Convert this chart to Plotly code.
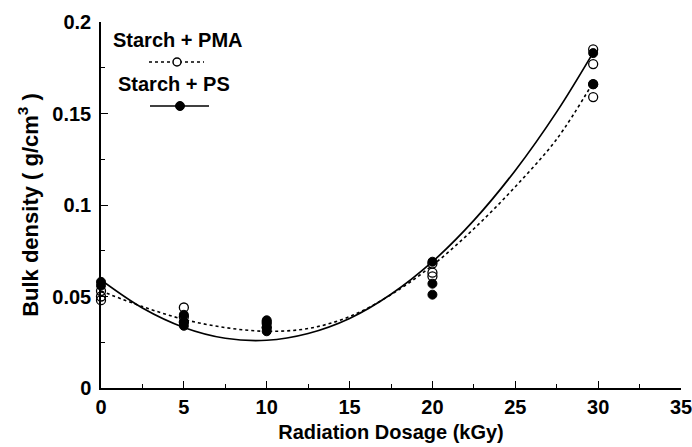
import plotly.graph_objects as go

# Radiation dosage (kGy) and bulk density (g/cm3)
pma_x = [0, 0, 0, 5, 5, 5, 10, 10, 20, 20, 20, 29.7, 29.7, 29.7, 29.7]
pma_y = [0.053, 0.050, 0.048, 0.044, 0.039, 0.036, 0.036, 0.033,
         0.068, 0.063, 0.061, 0.185, 0.177, 0.166, 0.159]
ps_x = [0, 0, 5, 5, 5, 10, 10, 10, 10, 20, 20, 20, 29.7, 29.7]
ps_y = [0.058, 0.056, 0.040, 0.036, 0.034, 0.037, 0.035, 0.033, 0.031,
        0.069, 0.057, 0.051, 0.183, 0.166]

# fitted trend curves
fit_x = [0, 2.5, 5, 7.5, 10, 12.5, 15, 17.5, 20, 22.5, 25, 27.5, 29.7]
pma_fit_y = [0.053, 0.0445, 0.0375, 0.0330, 0.0310, 0.0325, 0.0390,
             0.0510, 0.0670, 0.0870, 0.1100, 0.1360, 0.1670]
ps_fit_y = [0.059, 0.0437, 0.0331, 0.0272, 0.0261, 0.0298, 0.0380,
            0.0512, 0.0690, 0.0916, 0.1189, 0.1509, 0.1833]

x_ticks = [0, 5, 10, 15, 20, 25, 30, 35]
y_ticks = [0, 0.05, 0.1, 0.15, 0.2]
y_tick_text = ["0", "0.05", "0.1", "0.15", "0.2"]

FONT = "Liberation Sans, Arial, sans-serif"

fig = go.Figure()
fig.add_trace(go.Scatter(x=fit_x, y=pma_fit_y, mode="lines", line_shape="spline",
                         line=dict(color="black", width=1.6, dash="dot"),
                         showlegend=False, hoverinfo="skip"))
fig.add_trace(go.Scatter(x=fit_x, y=ps_fit_y, mode="lines", line_shape="spline",
                         line=dict(color="black", width=1.7),
                         showlegend=False, hoverinfo="skip"))
fig.add_trace(go.Scatter(x=ps_x, y=ps_y, mode="markers", name="Starch + PS",
                         marker=dict(symbol="circle", size=9, color="black",
                                     line=dict(color="black", width=1)),
                         showlegend=False, cliponaxis=False))
fig.add_trace(go.Scatter(x=pma_x, y=pma_y, mode="markers", name="Starch + PMA",
                         marker=dict(symbol="circle-open", size=9, color="black",
                                     line=dict(color="black", width=1.3)),
                         showlegend=False, cliponaxis=False))

axis_common = dict(showline=True, linecolor="black", linewidth=1.5,
                   ticks="inside", ticklen=7, tickwidth=1.2, tickcolor="black",
                   showgrid=False, zeroline=False, mirror=False, automargin=False,
                   ticklabeloverflow="allow",
                   tickfont=dict(family=FONT, size=20, color="black", weight="bold"))

fig.update_xaxes(range=[0, 35], tickvals=x_ticks, ticktext=[str(v) for v in x_ticks],
                 minor=dict(ticks="inside", dtick=2.5, tick0=0, ticklen=4,
                            tickcolor="black", tickwidth=1),
                 title=dict(text="Radiation Dosage (kGy)", standoff=8,
                            font=dict(family=FONT, size=20, color="black", weight="bold")),
                 **axis_common)
fig.update_yaxes(range=[0, 0.2], tickvals=y_ticks, ticktext=y_tick_text,
                 ticklabelstandoff=4,
                 minor=dict(ticks="inside", dtick=0.025, tick0=0, ticklen=4,
                            tickcolor="black", tickwidth=1),
                 title=dict(text="Bulk density ( g/cm<sup>3</sup> )", standoff=8,
                            font=dict(family=FONT, size=22, color="black", weight="bold")),
                 **axis_common)

# plot area on the page spans x 101..681, y 22..388
W, H = 692, 447
PL, PR, PT, PB = 101, 681, 22, 388
def px(xp):
    return (xp - PL) / (PR - PL)
def py(yp):
    return 1 - (yp - PT) / (PB - PT)

fig.update_layout(
    width=W, height=H,
    margin=dict(l=PL, r=W - PR, t=PT, b=H - PB, autoexpand=False),
    paper_bgcolor="white", plot_bgcolor="white",
    font=dict(family=FONT, color="black"),
)

# legend drawn by hand: text above its symbol
leg_font = dict(family=FONT, size=20, color="black", weight="bold")
fig.add_annotation(x=px(177), y=py(40), xref="paper", yref="paper",
                   xanchor="center", yanchor="middle",
                   text="Starch + PMA", showarrow=False, font=leg_font)
fig.add_annotation(x=px(174), y=py(84), xref="paper", yref="paper",
                   xanchor="center", yanchor="middle",
                   text="Starch + PS", showarrow=False, font=leg_font)

fig.add_shape(type="line", xref="paper", yref="paper", x0=px(149), x1=px(204),
              y0=py(62), y1=py(62), line=dict(color="black", width=1.5, dash="dot"))
fig.add_shape(type="circle", xref="paper", yref="paper",
              x0=px(173), x1=px(181), y0=py(66), y1=py(58),
              line=dict(color="black", width=1.5), fillcolor="white")
fig.add_shape(type="line", xref="paper", yref="paper", x0=px(150), x1=px(209),
              y0=py(106), y1=py(106), line=dict(color="black", width=1.5))
fig.add_shape(type="circle", xref="paper", yref="paper",
              x0=px(175.5), x1=px(184.5), y0=py(110.5), y1=py(101.5),
              line=dict(color="black", width=1), fillcolor="black")

# remove the default page margin so the figure fills the window exactly
fig.write_html("out.html",
               config={"displayModeBar": False},
               post_script="document.body.style.margin='0';"
                           "document.body.style.overflow='hidden';")
